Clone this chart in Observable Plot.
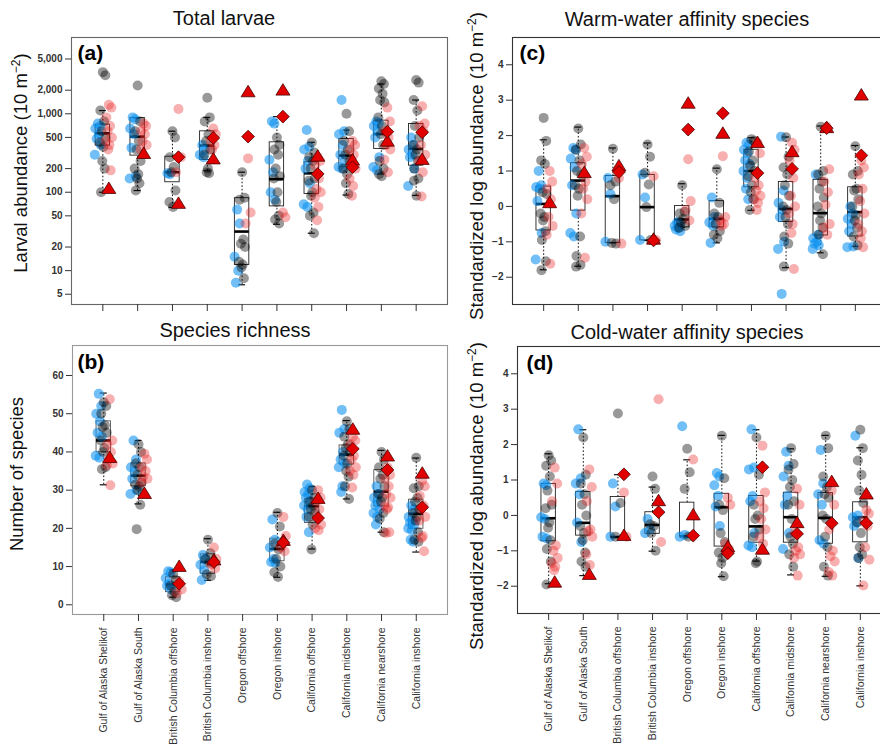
<!DOCTYPE html>
<html><head><meta charset="utf-8">
<script src="https://cdn.jsdelivr.net/npm/d3@7"></script>
<script src="https://cdn.jsdelivr.net/npm/@observablehq/plot@0.6"></script>
<style>
html,body{margin:0;padding:0;background:#fff;overflow:hidden}
#fig{position:relative;width:880px;height:744px;overflow:hidden;font-family:"Liberation Sans",Arial,sans-serif;background:#fff}
#fig > svg{position:absolute}
</style></head><body><div id="fig"></div>
<script>
const regions = ["Gulf of Alaska Shelikof","Gulf of Alaska South","British Columbia offshore","British Columbia inshore","Oregon offshore","Oregon inshore","California offshore","California midshore","California nearshore","California inshore"];

// ---------- (a) Total larvae ----------
const aTicks = [5,10,20,50,100,200,500,1000,2000,5000];
const aBox = [[100,393,564,728,1100],[105,293,512,885,885],[64,134,180,284,600],[188,258,393,598,900],[6.6,11.8,31.5,84,180],[39,66,147,433,920],[30,95,174,241,433],[92,208,293,477,620],[171,356,553,818,2400],[91,218,356,742,1500]];
const aBlue = [[750,700,650,550,480,400,300],[900,850,650,550,370,160,150],[175,170],[400,350,300,280],[60,40,15,10,7],[800,750,260,180,100,80],[620,380,350,250,200,130,70,65],[1500,600,550,400,300,250,210,200],[800,750,700,600,500,280,210,190],[500,400,350,300,280,200,120]];
const aGray = [[3400,3100,1100,800,600,500,430,380,250,200,100],[2300,800,600,450,350,250,200,170,150,130,105],[600,500,280,210,180,105,75,65],[1600,900,800,550,450,350,300,200,180,175],[180,85,80,25,22,20,13,12,11,8],[500,400,350,300,200,160,150,100,75,50,45,40],[430,320,280,250,200,150,140,100,90,55,50,30],[1000,600,450,350,300,250,200,170,130,95],[2600,2400,2100,1800,1500,1400,900,700,550,400,250,200,170,160],[2700,2500,1500,1100,700,500,400,350,300,250,200,150,140,90]];
const aPink = [[1300,1200,900,700,600,500,450,400,350,190],[750,700,600,550,450,400,350],[1150,280,180],[650,550,450,400,350],[270,55,40],[55,48],[280,250,220,150,110,100,85,65,44],[450,400,350,300,250,200,150,120,90],[1200,800,600,500,400,350,260,180],[1250,750,700,600,400,300,250,180,88]];
const aTri = [110,307,71,262,1880,1975,284,253,441,258];
const aDia = [null,null,280,492,512,920,171,208,592,581];

// ---------- (b) Species richness ----------
const bTicks = [0,10,20,30,40,50,60];
const bBox = [[31.4,39.9,43.0,48.0,55.4],[26.4,31.0,33.8,37.0,43.0],[2.0,3.3,5.3,7.2,9.2],[6.4,8.1,11.2,13.2,17.3],null,[7.2,11.4,14.6,17.3,24.2],[14.6,21.4,25.8,27.7,31.0],[27.7,36.7,39.3,41.7,48.2],[19.0,25.7,29.6,35.3,40.4],[13.8,19.9,23.8,27.5,38.4]];
const bBlue = [[55.2,52,50,48,45,44,39,38.5],[43,38,36,35,33,30,29],[8.8,8.5,7,5.5,5,4],[13,12,10.5,9,6.5],[],[22.3,17,15,12,11.2,11],[31.5,30.5,29.5,29,28,27,26,25,23,19],[51,46,45,40,38,37,36,31,29.5],[31,29,28,27,26,25,24,23,21],[26,25,23,22,21.5,21,20,19.5,17,16.5]];
const bGray = [[53,52,50,47,46.5,45,43,41,40,36,35.5],[42,40,37,36,34,32,31.5,31,30,26.2,19.8],[8,6.5,5,3.5,2.5,2],[17,13.5,12,11,8,7.5],[],[24,20.5,16,14.5,12,10,8.5,7.3],[30,28,27,26,25,24,23,21,14.5],[48,46,44,42,41,40,39,37,35,33.5,31,27.7],[40,38,36,34,33,31,29,28,27,24,22.5,19],[38.5,31,30.5,28,27,25,24,23,22,19,17,16.5]];
const bPink = [[53.8,43,42,40,38,37,36.5,31.3],[39.5,38,36,35,33.5,33,32],[6,4,3],[15,12,10.5,9.5],[],[23,18,15,14],[30,28,27,25,23,21,20,19.5],[44,43,42,39,38,36,35,34,30.7],[36,34,33,31,29,28,26,25.5,25,19,18.8],[32.5,31,28.5,26,25,23,22,18,17.5,14]];
const bTri = [38.4,29,9.9,11.6,null,16.7,27.7,45.8,38.8,34.3];
const bDia = [null,null,5.5,11.2,null,16.3,22.7,40.8,35.3,25.5];

// ---------- (c) Warm-water affinity species ----------
const cTicks = [-2,-1,0,1,2,3,4];
const cBox = [[-1.79,-0.68,0.07,0.56,1.88],[-1.69,-0.12,0.73,1.22,2.24],[-1.03,-1.03,0.29,0.86,1.65],[-0.96,-0.96,-0.02,0.89,1.79],[-0.59,-0.59,-0.37,0.01,0.64],[-1.03,-0.59,-0.35,0.15,1.08],[-0.11,0.54,1.0,1.6,1.94],[-1.73,-0.44,-0.07,0.69,1.96],[-1.31,-0.82,-0.19,0.75,2.27],[-1.13,-0.85,-0.16,0.54,1.72]];
const cBlue = [[1.0,0.6,0.55,0.5,0.15,-0.75,-1.5],[1.65,1.6,1.35,1.1,0.6,-0.2,-0.75,-0.85],[0.8,0.35,-1.0],[0.9,0.25,-0.95],[-0.45,-0.5,-0.55,-0.6,-0.65,-0.7],[0.25,-0.3,-0.45,-0.55,-1.03],[1.8,1.75,1.6,1.5,1.3,1.2,1.0,0.8,0.5,0.2],[1.97,0.45,0.1,-0.1,-0.3,-1.0,-1.2,-2.47],[0.9,-0.8,-0.9,-1.0,-1.05,-1.1,-1.2],[0.0,-0.2,-0.35,-0.5,-0.7,-1.13,-1.15]];
const cGray = [[2.5,1.85,1.3,1.2,0.4,0.35,-0.2,-0.3,-0.4,-0.7,-0.95,-1.55,-1.8],[2.2,1.75,1.6,1.3,1.0,0.9,0.6,0.5,0.3,-0.85,-1.4,-1.65,-1.7],[1.63,0.7,0.6,0.2,-1.03,-1.05],[1.75,1.4,0.95,0.62,-0.02,-0.95],[0.6,-0.15,-0.2,-0.35,-0.45,-0.55,-0.6],[1.05,0.1,-0.2,-0.3,-0.5,-0.7,-0.8,-0.9],[1.9,1.85,1.55,1.3,1.15,1.0,0.85,0.6,0.4,0.2,-0.1],[1.95,1.4,1.1,0.9,0.6,0.3,0.0,-0.1,-0.3,-0.5,-0.85,-1.05,-1.7],[2.25,1.0,0.9,0.7,0.5,0.25,0.0,-0.2,-0.4,-0.6,-0.8,-1.35],[1.7,1.0,0.9,0.5,0.45,0.2,0.0,-0.25,-0.4,-0.6,-0.85,-1.1]];
const cPink = [[1.0,0.7,0.5,0.2,-0.3,-0.55,-0.8,-1.62],[1.65,1.4,1.2,0.7,0.5,0.2,-0.2,-1.45],[0.8,-1.05],[0.85,-0.95],[1.33,0.15,-0.1,-0.4],[1.42,-0.3,-0.4,-0.5,-0.55],[1.8,1.5,0.8,0.6,0.45,0.3,0.2,0.1,-0.1],[1.8,1.6,1.3,0.8,0.3,0.0,-0.2,-0.5,-0.75,-1.77],[2.25,1.05,0.7,0.4,0.05,-0.5,-0.6,-0.8],[1.3,1.1,0.9,0.5,0.15,-0.2,-0.5,-0.7,-0.9,-1.15]];
const cTri = [0.09,0.94,1.13,-0.94,2.9,2.05,1.79,1.53,2.21,3.13];
const cDia = [null,null,0.97,-0.96,2.17,2.63,0.94,1.06,2.21,1.44];

// ---------- (d) Cold-water affinity species ----------
const dTicks = [-2,-1,0,1,2,3,4];
const dBox = [[-1.93,-0.73,-0.08,0.89,1.74],[-1.7,-0.57,-0.21,0.66,2.42],[-0.61,-0.61,-0.61,0.52,1.15],[-1.01,-0.52,-0.27,0.09,0.8],[-0.59,-0.59,-0.59,0.36,1.57],[-1.73,-0.88,0.23,0.61,2.26],[-1.29,-0.77,-0.31,0.55,2.42],[-1.68,-0.77,-0.05,0.64,1.88],[-1.72,-0.8,-0.07,0.63,2.26],[-1.99,-0.76,-0.05,0.37,1.91]];
const dBlue = [[0.9,0.85,-0.05,-0.1,-0.6,-0.65],[2.43,1.05,0.9,0.6,-0.2,-0.75],[0.9,0.25,-0.6],[-0.1,-0.4,-0.5],[2.52,-0.55,-0.6],[1.2,1.1,0.85,0.55,0.25,-0.3],[2.43,1.35,1.3,0.55,0.4,-0.5,-0.85,-0.9],[1.8,1.4,1.1,0.55,0.3,-0.5,-0.95],[1.85,0.9,0.6,0.3,-0.7,-0.8],[2.25,0.0,-0.05,-0.2,-0.3,-1.2]];
const dGray = [[1.7,1.55,1.4,1.1,0.7,0.3,0.2,-0.2,-0.35,-0.7,-0.95,-1.3,-1.95],[2.2,1.15,0.9,0.6,0.3,0.0,-0.3,-0.5,-0.7,-1.05,-1.3,-1.45],[2.88,0.35,-0.6],[1.1,0.75,-0.25,-0.3,-0.5,-1.0],[1.88,1.22,0.75,-0.6],[2.25,1.05,0.3,0.15,-0.5,-0.75,-1.05,-1.2,-1.35,-1.72],[2.2,1.15,0.3,0.0,-0.1,-0.4,-0.6,-1.3,-1.35],[1.9,1.45,1.3,1.0,0.8,0.4,0.3,-0.1,-0.6,-0.8,-1.1,-1.45],[2.25,1.9,1.1,0.8,0.6,0.5,0.0,-0.1,-0.6,-0.9,-1.45,-1.7],[2.42,1.9,1.55,1.15,0.7,0.35,-0.2,-0.5,-0.9,-1.1,-1.2]];
const dPink = [[1.35,0.9,0.4,-0.85,-1.0,-1.2,-1.35,-1.45,-1.55],[1.3,0.8,0.4,-0.4,-0.45,-0.6,-1.1,-1.4],[0.65,-0.6],[3.28,-0.75],[1.58],[0.5,0.3,-0.8,-0.95],[1.97,0.65,0.4,0.2,-0.1,-0.4,-0.6,-0.8],[0.75,0.3,-0.5,-0.9,-1.0,-1.1,-1.2,-1.7],[0.7,0.3,-0.4,-1.0,-1.15,-1.3,-1.6,-1.7],[0.15,0.05,-0.15,-0.3,-0.9,-1.25,-1.98]];
const dTri = [-1.9,-1.68,-0.58,0.4,0.0,-0.9,-0.97,-0.22,0.94,0.59];
const dDia = [null,null,1.16,0.09,-0.57,-1.07,1.36,-0.52,-0.22,-0.22];

// ---------- drawing ----------
const FONT = '"Liberation Sans", Arial, sans-serif';
const jit = [0,2.5,-2.5,1.2,-1.2,3,-3,0.6,-0.6,1.8,-1.8,2.2,-2.2,0.3,-0.3];
const triSym = {draw(ctx, size){const r=Math.sqrt(size/Math.PI);ctx.moveTo(0,-r);ctx.lineTo(r,r*0.64);ctx.lineTo(-r,r*0.64);ctx.closePath();}};
const diaSym = {draw(ctx, size){const r=Math.sqrt(size/Math.PI);ctx.moveTo(0,-r);ctx.lineTo(r,0);ctx.lineTo(0,r);ctx.lineTo(-r,0);ctx.closePath();}};
const X0 = 0.1, X1 = 10.9;

const panels = [
  {left:0, top:30, width:460, height:290, m:[7,13,16,71], type:"log", dom:[3.7,9400], ticks:aTicks, fmt:d3.format(","), box:aBox, blue:aBlue, gray:aGray, pink:aPink, tri:aTri, dia:aDia, labels:false, frame:"#666", boxStroke:"#222", tag:"(a)", tdx:6, tdy:8},
  {left:0, top:330, width:460, height:414, m:[15,13,130,72], type:"linear", dom:[-2.54,67.85], ticks:bTicks, fmt:d3.format("d"), box:bBox, blue:bBlue, gray:bGray, pink:bPink, tri:bTri, dia:bDia, labels:true, frame:"#999", boxStroke:"#555", tag:"(b)", tdx:5, tdy:9},
  {left:460, top:30, width:460, height:290, m:[7,34,16,52], type:"linear", dom:[-2.77,4.77], ticks:cTicks, fmt:d3.format("d"), box:cBox, blue:cBlue, gray:cGray, pink:cPink, tri:cTri, dia:cDia, labels:false, frame:"#333", boxStroke:"#222", tag:"(c)", tdx:7, tdy:8},
  {left:460, top:330, width:460, height:414, m:[16,29,131,57], type:"linear", dom:[-2.77,4.77], ticks:dTicks, fmt:d3.format("d"), box:dBox, blue:dBlue, gray:dGray, pink:dPink, tri:dTri, dia:dDia, labels:true, frame:"#333", boxStroke:"#222", tag:"(d)", tdx:9, tdy:9}
];

const fig = document.getElementById("fig");

for (const p of panels) {
  const [mt, mr, mb, ml] = p.m;
  const PX = (p.width - ml - mr) / (X1 - X0);
  const u = px => px / PX;
  const pts = (arr, base) => arr.flatMap((vals, g) => vals.map((v, i) => ({x: g + 1 + u(base + jit[i % jit.length]), y: v})));
  const boxes = p.box.map((b, g) => b && {g: g + 1, lo: b[0], q1: b[1], med: b[2], q3: b[3], hi: b[4]}).filter(Boolean);
  const mk = (arr) => arr.map((v, g) => v == null ? null : {x: g + 1 + u(6), y: v}).filter(Boolean);
  const BW = u(7.2), SW = u(3.5), MW = u(7.2);
  const marks = [
    Plot.rect(boxes, {x1: d => d.g - BW, x2: d => d.g + BW, y1: "q1", y2: "q3", fill: "none", stroke: p.boxStroke, strokeWidth: 0.9}),
    Plot.ruleX(boxes, {x: "g", y1: "q3", y2: "hi", stroke: "#111", strokeWidth: 1, strokeDasharray: "1.6,2"}),
    Plot.ruleX(boxes, {x: "g", y1: "lo", y2: "q1", stroke: "#111", strokeWidth: 1, strokeDasharray: "1.6,2"}),
    Plot.ruleY(boxes, {y: "hi", x1: d => d.g - SW, x2: d => d.g + SW, stroke: "#111", strokeWidth: 1.2}),
    Plot.ruleY(boxes, {y: "lo", x1: d => d.g - SW, x2: d => d.g + SW, stroke: "#111", strokeWidth: 1.2}),
    Plot.ruleY(boxes, {y: "med", x1: d => d.g - MW, x2: d => d.g + MW, stroke: "#000", strokeWidth: 2.6}),
    Plot.dot(pts(p.blue, -5), {x: "x", y: "y", r: 5, fill: "#0a90f0", fillOpacity: 0.58, stroke: "none"}),
    Plot.dot(pts(p.gray, 0), {x: "x", y: "y", r: 5, fill: "#000", fillOpacity: 0.4, stroke: "none"}),
    Plot.dot(pts(p.pink, 6), {x: "x", y: "y", r: 5, fill: "#e82020", fillOpacity: 0.36, stroke: "none"}),
    Plot.dot(mk(p.tri), {x: "x", y: "y", r: 7, symbol: triSym, fill: "#e00000", stroke: "#4a0000", strokeWidth: 0.8}),
    Plot.dot(mk(p.dia), {x: "x", y: "y", r: 6.4, symbol: diaSym, fill: "#e00000", stroke: "#4a0000", strokeWidth: 0.8}),
    Plot.frame({stroke: p.frame, strokeWidth: 1.1}),
    // y axis: tick marks and labels placed through the y scale
    Plot.ruleY(p.ticks, {y: d => d, x1: X0 - u(6), x2: X0, stroke: "#333", strokeWidth: 1}),
    Plot.text(p.ticks, {y: d => d, x: X0 - u(9), text: d => p.fmt(d), textAnchor: "end", lineAnchor: "middle", fontSize: 10, fontWeight: "bold", fill: "#333"}),
    // x axis ticks
    Plot.axisX(d3.range(1, 11), {tickFormat: () => "", tickSize: 7, stroke: "#333", label: null}),
    Plot.text([p.tag], {frameAnchor: "top-left", dx: p.tdx, dy: p.tdy, lineAnchor: "top", textAnchor: "start", fontSize: 21, fontWeight: "bold", fill: "#000"})
  ];
  if (p.labels) {
    marks.push(Plot.text(regions, {x: (d, i) => i + 1, frameAnchor: "bottom", dy: 13, rotate: -90, textAnchor: "end", lineAnchor: "middle", fontSize: 10.5, fill: "#333"}));
  }
  const svg = Plot.plot({
    width: p.width, height: p.height,
    marginTop: mt, marginRight: mr, marginBottom: mb, marginLeft: ml,
    style: {fontFamily: FONT, color: "#333", background: "transparent", overflow: "visible", maxWidth: "none"},
    x: {type: "linear", domain: [X0, X1]},
    y: {type: p.type, domain: p.dom, axis: null},
    marks
  });
  svg.style.position = "absolute";
  svg.style.left = p.left + "px";
  svg.style.top = p.top + "px";
  fig.appendChild(svg);
}

// ---------- titles and axis titles ----------
const ov = d3.select(fig).append("svg").attr("width", 880).attr("height", 744)
  .style("position", "absolute").style("left", "0px").style("top", "0px")
  .attr("font-family", FONT);
const titles = [
  {t: "Total larvae", x: 224, y: 25},
  {t: "Warm-water affinity species", x: 687, y: 26},
  {t: "Species richness", x: 235, y: 337},
  {t: "Cold-water affinity species", x: 687, y: 339}
];
ov.selectAll("text.title").data(titles).join("text").attr("class", "title")
  .attr("x", d => d.x).attr("y", d => d.y).attr("text-anchor", "middle")
  .attr("font-size", 20).attr("fill", "#111").text(d => d.t);

const ylabs = [
  {t: "Larval abundance (10 m", sup: true, x: 27, y: 163},
  {t: "Number of species", sup: false, x: 23, y: 474},
  {t: "Standardized log abundance (10 m", sup: true, x: 483, y: 166},
  {t: "Standardized log abundance (10 m", sup: true, x: 483, y: 496}
];
for (const l of ylabs) {
  const tx = ov.append("text").attr("transform", `translate(${l.x},${l.y}) rotate(-90)`)
    .attr("text-anchor", "middle").attr("font-size", 18.5).attr("fill", "#111");
  tx.append("tspan").text(l.t);
  if (l.sup) {
    tx.append("tspan").attr("dy", -7).attr("font-size", 12).text("\u22122");
    tx.append("tspan").attr("dy", 7).text(")");
  }
}
</script>
</body></html>
